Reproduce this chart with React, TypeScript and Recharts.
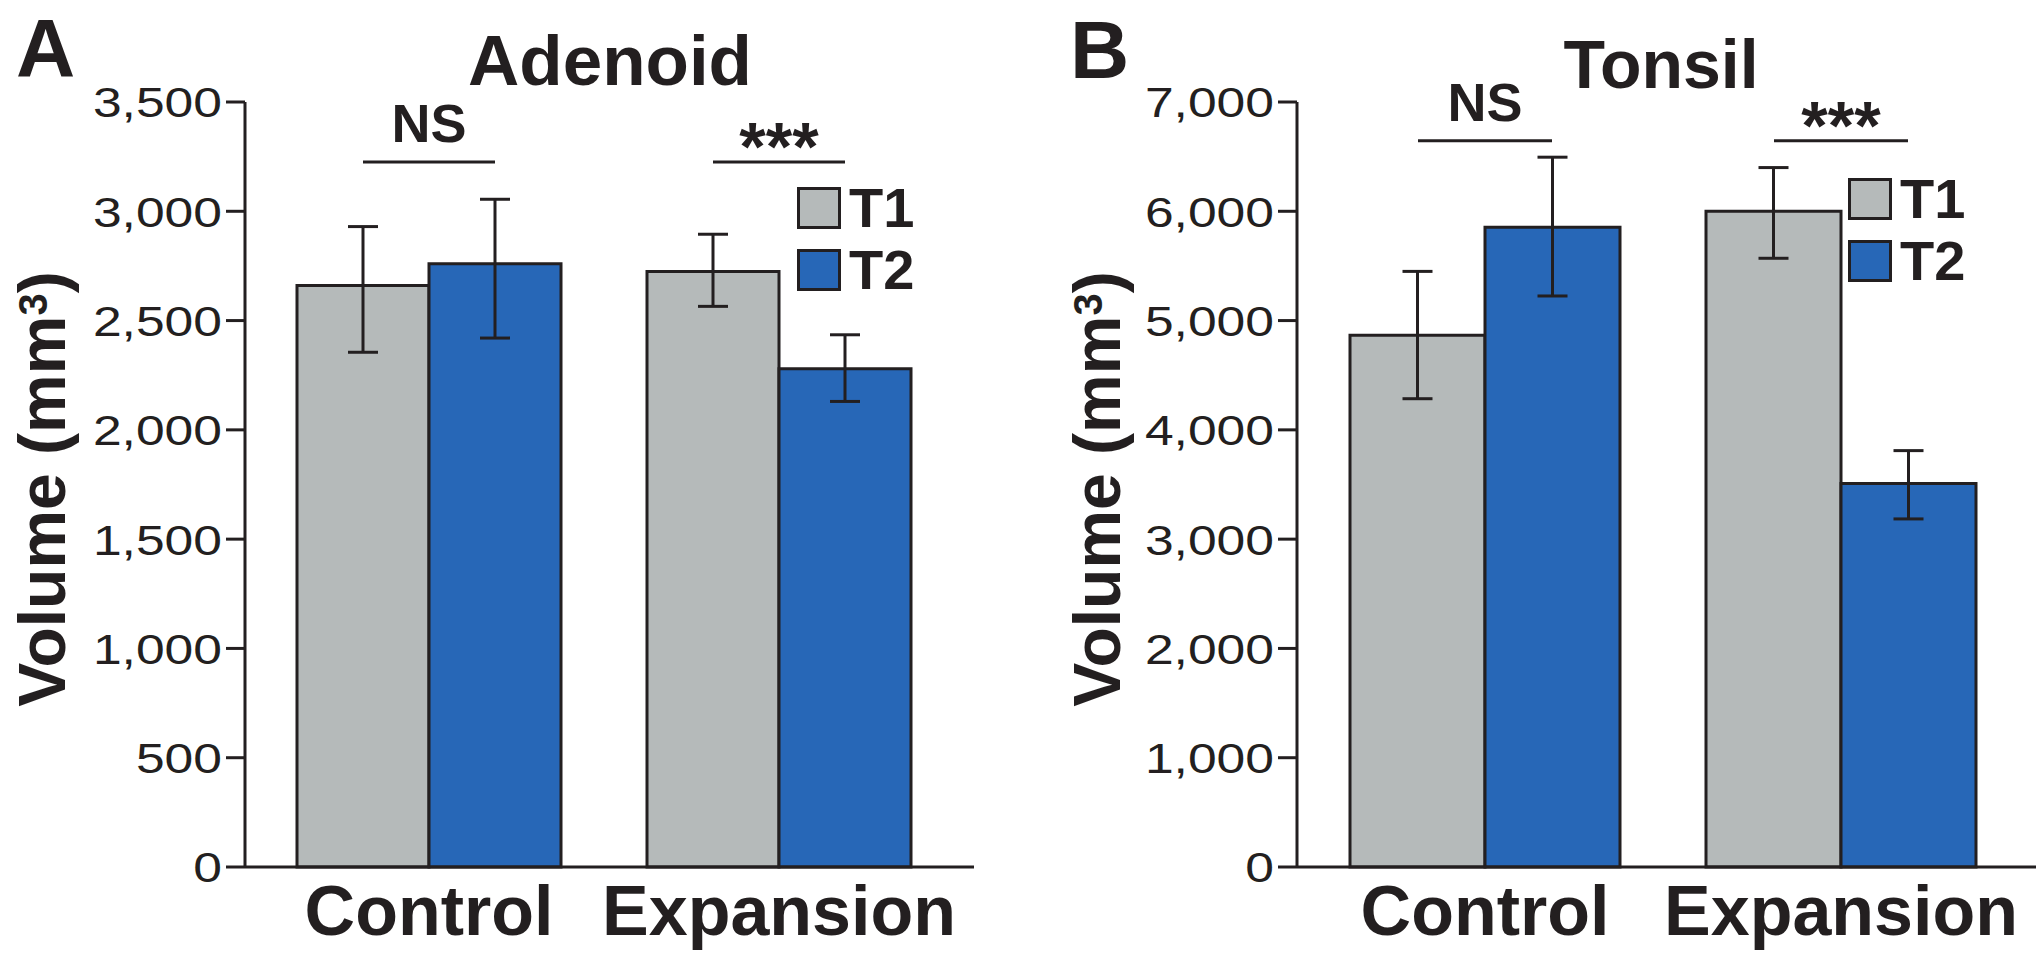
import React from 'react';
import { BarChart, Bar, XAxis, YAxis, ErrorBar, ReferenceLine, Legend } from 'recharts';

// values (mm3)
const categories = ['Control', 'Expansion'];

const adenoidT1 = [2660, 2725];
const adenoidT2 = [2760, 2280];
const adenoidT1Low = [305, 160];
const adenoidT1High = [270, 170];
const adenoidT2Low = [340, 150];
const adenoidT2High = [295, 155];
const adenoidTicks = [0, 500, 1000, 1500, 2000, 2500, 3000, 3500];
const adenoidSig = ['NS', '***'];
const adenoidSigLevel = 3225;

const tonsilT1 = [4865, 6000];
const tonsilT2 = [5855, 3510];
const tonsilT1Low = [580, 430];
const tonsilT1High = [585, 400];
const tonsilT2Low = [630, 325];
const tonsilT2High = [640, 300];
const tonsilTicks = [0, 1000, 2000, 3000, 4000, 5000, 6000, 7000];
const tonsilSig = ['NS', '***'];
const tonsilSigLevel = 6645;

const INK = '#231f20';
const GRAY = '#b5baba';
const BLUE = '#2767b7';
const FONT = '"Liberation Sans", Arial, Helvetica, sans-serif';
const SERIES_COLORS: Record<string, string> = { T1: GRAY, T2: BLUE };

const buildRows = (t1: number[], t2: number[], t1Lo: number[], t1Hi: number[], t2Lo: number[], t2Hi: number[]) =>
  categories.map((name, i) => ({
    name,
    t1: t1[i],
    t2: t2[i],
    t1Err: [t1Lo[i], t1Hi[i]],
    t2Err: [t2Lo[i], t2Hi[i]],
  }));

const adenoidRows = buildRows(adenoidT1, adenoidT2, adenoidT1Low, adenoidT1High, adenoidT2Low, adenoidT2High);
const tonsilRows = buildRows(tonsilT1, tonsilT2, tonsilT1Low, tonsilT1High, tonsilT2Low, tonsilT2High);

const fmt = (v: number) => v.toLocaleString('en-US');

function YTick({ x, y, payload }: any) {
  return (
    <text
      transform={`translate(${x},${y}) scale(1.2,1)`}
      textAnchor="end"
      dy="0.36em"
      fontSize={43}
      fill={INK}
    >
      {fmt(payload.value)}
    </text>
  );
}

function SigMark({ x1, y1, label, half }: any) {
  const stars = label !== 'NS';
  return (
    <g>
      <line x1={x1 - half} x2={x1 + half} y1={y1} y2={y1} stroke={INK} strokeWidth={3} />
      <text
        x={x1}
        y={stars ? y1 + 8 : y1 - 20}
        textAnchor="middle"
        fontSize={stars ? 68 : 54}
        fontWeight={700}
        fill={INK}
      >
        {label}
      </text>
    </g>
  );
}

function renderLegend({ payload }: any) {
  return (
    <div style={{ fontFamily: FONT }}>
      {(payload || []).map((entry: any) => (
        <div key={entry.value} style={{ display: 'flex', alignItems: 'center', height: 42, marginBottom: 20 }}>
          <span
            style={{
              width: 44,
              height: 42,
              boxSizing: 'border-box',
              background: SERIES_COLORS[entry.value] || entry.color,
              border: `3px solid ${INK}`,
            }}
          />
          <span style={{ marginLeft: 8, fontSize: 56, fontWeight: 700, color: INK, lineHeight: 1 }}>{entry.value}</span>
        </div>
      ))}
    </div>
  );
}

interface PanelProps {
  letter: string;
  title: string;
  titleSize: number;
  rows: any[];
  max: number;
  ticks: number[];
  sig: string[];
  sigLevel: number;
  margin: { top: number; right: number; bottom: number; left: number };
  pad: { left: number; right: number };
  letterPos: [number, number];
  titlePos: [number, number];
  labelX: number;
  legendPos: [number, number];
  half: number;
}

function Panel(p: PanelProps) {
  return (
    <BarChart width={1020} height={963} data={p.rows} margin={p.margin} barCategoryGap={43} barGap={0}>
      <text x={p.letterPos[0]} y={p.letterPos[1]} fontSize={82} fontWeight={700} fill={INK}>
        {p.letter}
      </text>
      <text x={p.titlePos[0]} y={p.titlePos[1]} textAnchor="middle" fontSize={p.titleSize} fontWeight={700} fill={INK}>
        {p.title}
      </text>
      <text
        transform={`translate(${p.labelX},489) rotate(-90)`}
        textAnchor="middle"
        fontSize={66}
        fontWeight={700}
        fill={INK}
      >
        Volume (mm<tspan dy={-18} fontSize={40}>3</tspan>
        <tspan dy={18}>)</tspan>
      </text>
      <XAxis
        dataKey="name"
        interval={0}
        height={90}
        padding={p.pad}
        tickLine={false}
        tickSize={0}
        tickMargin={18}
        axisLine={{ stroke: INK, strokeWidth: 3 }}
        tick={{ fontSize: 70, fontWeight: 700, fill: INK }}
      />
      <YAxis
        width={100}
        domain={[0, p.max]}
        ticks={p.ticks}
        interval={0}
        tickSize={19}
        tickMargin={4}
        tickLine={{ stroke: INK, strokeWidth: 3 }}
        axisLine={{ stroke: INK, strokeWidth: 3 }}
        tick={<YTick />}
      />
      <Legend
        layout="horizontal"
        verticalAlign="middle"
        align="center"
        content={renderLegend}
        wrapperStyle={{ left: p.legendPos[0], top: p.legendPos[1], width: 'auto' }}
      />
      <Bar dataKey="t1" name="T1" fill={GRAY} stroke={INK} strokeWidth={3} isAnimationActive={false}>
        <ErrorBar dataKey="t1Err" width={15} strokeWidth={3} stroke={INK} />
      </Bar>
      <Bar dataKey="t2" name="T2" fill={BLUE} stroke={INK} strokeWidth={3} isAnimationActive={false}>
        <ErrorBar dataKey="t2Err" width={15} strokeWidth={3} stroke={INK} />
      </Bar>
      {categories.map((c, i) => (
        <ReferenceLine
          key={c}
          segment={[
            { x: c, y: p.sigLevel },
            { x: c, y: p.sigLevel },
          ]}
          shape={(props: any) => <SigMark {...props} label={p.sig[i]} half={p.half} />}
        />
      ))}
    </BarChart>
  );
}

export default function App() {
  return (
    <div
      style={{
        position: 'absolute',
        left: 0,
        top: 0,
        width: 2040,
        height: 963,
        display: 'flex',
        background: '#fff',
        fontFamily: FONT,
      }}
    >
      <Panel
        letter="A"
        title="Adenoid"
        titleSize={71}
        rows={adenoidRows}
        max={3500}
        ticks={adenoidTicks}
        sig={adenoidSig}
        sigLevel={adenoidSigLevel}
        margin={{ top: 102, right: 46, bottom: 6, left: 145 }}
        pad={{ left: 9, right: 20 }}
        letterPos={[16, 76]}
        titlePos={[610, 85]}
        labelX={65}
        legendPos={[797, 187]}
        half={66}
      />
      <Panel
        letter="B"
        title="Tonsil"
        titleSize={68}
        rows={tonsilRows}
        max={7000}
        ticks={tonsilTicks}
        sig={tonsilSig}
        sigLevel={tonsilSigLevel}
        margin={{ top: 102, right: 4, bottom: 6, left: 177 }}
        pad={{ left: 10, right: 17 }}
        letterPos={[50, 78]}
        titlePos={[641, 88]}
        labelX={100}
        legendPos={[828, 178]}
        half={67}
      />
    </div>
  );
}
